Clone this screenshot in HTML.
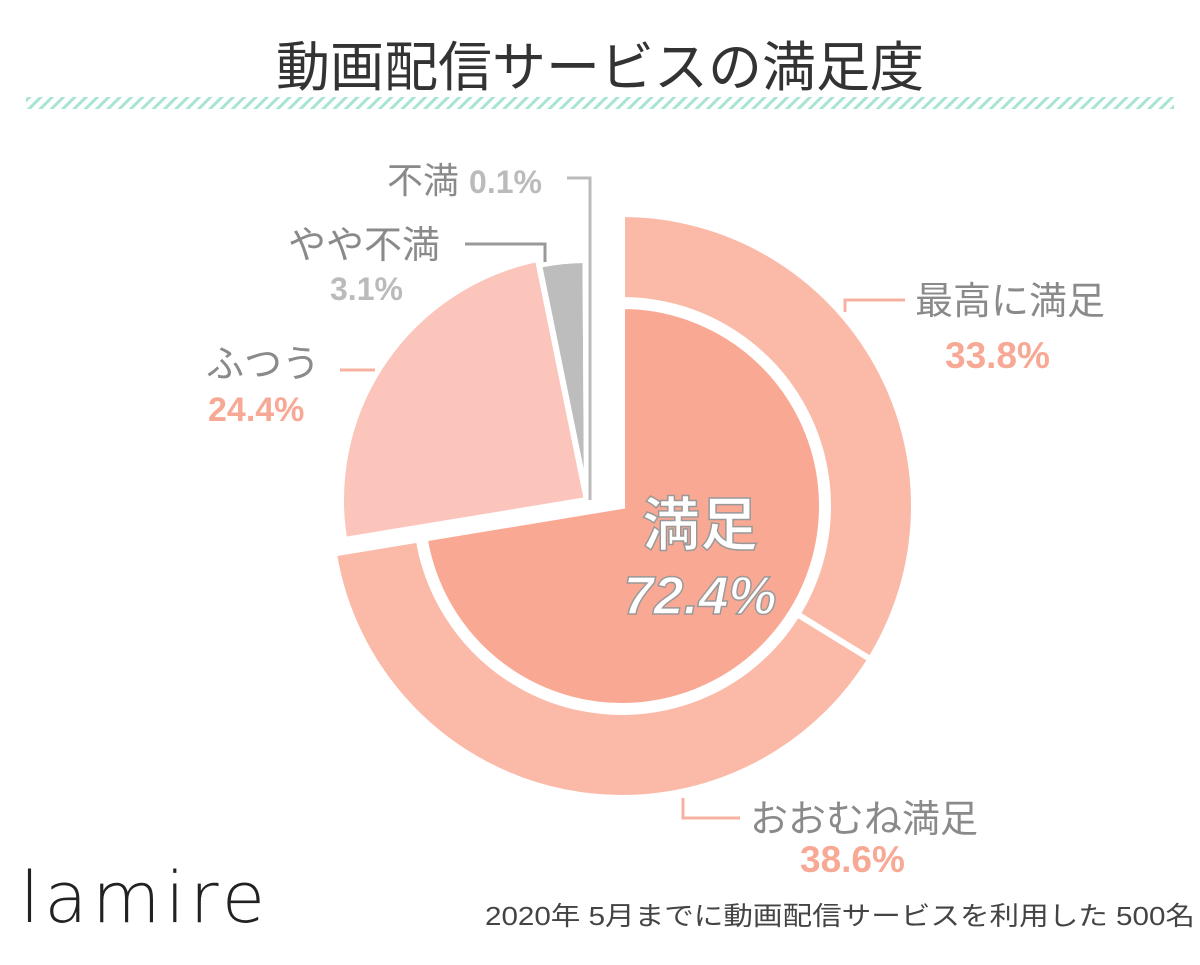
<!DOCTYPE html>
<html><head><meta charset="utf-8"><style>
body{margin:0;background:#fff;width:1200px;height:960px;overflow:hidden;font-family:"Liberation Sans","Noto Sans CJK JP",sans-serif}
</style></head><body>
<svg width="1200" height="960" viewBox="0 0 1200 960">
<defs><pattern id="hatch" width="8" height="8" patternUnits="userSpaceOnUse" patternTransform="rotate(45)"><rect width="3" height="8" fill="#a8e4d4"/></pattern></defs>
<text x="600" y="86" text-anchor="middle" font-size="54" fill="#333" font-family="Liberation Sans,Noto Sans CJK JP,sans-serif">動画配信サービスの満足度</text>
<rect x="26" y="97" width="1148" height="12" fill="url(#hatch)"/>
<g id="marks"></g>
<g fill="none" stroke-width="3">
<polyline points="567,178 590,178 590,500" stroke="#bbb"/>
<polyline points="465,244 545,244 545,262" stroke="#999"/>
<polyline points="340,370 375,370" stroke="#f7b1a0"/>
<polyline points="905,300 845,300 845,312" stroke="#f7b1a0"/>
<polyline points="740,818 683,818 683,798" stroke="#f7b1a0"/>
</g>
<g font-size="38" fill="#8a8a8a">
<text x="387" y="193" font-size="36">不満 <tspan fill="#bbb" font-weight="bold" font-size="32">0.1%</tspan></text>
<text x="288" y="258">やや不満</text>
<text x="330" y="300" fill="#bbb" font-weight="bold" font-size="32">3.1%</text>
<text x="206" y="377">ふつう</text>
<text x="208" y="421" fill="#f7a995" font-weight="bold" font-size="34">24.4%</text>
<text x="915" y="314">最高に満足</text>
<text x="945" y="368" fill="#f7a995" font-weight="bold" font-size="37">33.8%</text>
<text x="750" y="832">おおむね満足</text>
<text x="800" y="872" fill="#f7a995" font-weight="bold" font-size="37">38.6%</text>
</g>
<text x="700" y="545" text-anchor="middle" font-size="58" fill="#fff" stroke="#999" stroke-width="1.5" font-weight="bold">満足</text>
<text x="700" y="614" text-anchor="middle" font-size="54" fill="#fff" stroke="#999" stroke-width="1.5" font-weight="bold" font-style="italic">72.4%</text>
<text x="20" y="922" font-size="70" fill="#222" font-family="DejaVu Sans,sans-serif" font-weight="200" textLength="245" lengthAdjust="spacing">lamire</text>
<text x="485" y="925" font-size="26" fill="#444" textLength="710" lengthAdjust="spacingAndGlyphs">2020年 5月までに動画配信サービスを利用した 500名</text>
</svg>
<script>
const ringLabels=["最高に満足","おおむね満足"];
const ringValues=[33.8,38.6];
const satisfiedTotal=[72.4];
const otherLabels=["ふつう","やや不満","不満"];
const otherValues=[24.4,3.1,0.1];
const NS="http://www.w3.org/2000/svg";
const g=document.getElementById('marks');
function ang(p){return p/100*2*Math.PI;}
function pt(cx,cy,r,a){return [cx+r*Math.sin(a),cy-r*Math.cos(a)];}
function arcPath(cx,cy,r0,r1,a0,a1){
 const large=(a1-a0)>Math.PI?1:0;
 const p1=pt(cx,cy,r1,a0),p2=pt(cx,cy,r1,a1);
 if(r0<=0)return `M${cx},${cy}L${p1}A${r1},${r1} 0 ${large} 1 ${p2}Z`;
 const p3=pt(cx,cy,r0,a1),p4=pt(cx,cy,r0,a0);
 return `M${p1}A${r1},${r1} 0 ${large} 1 ${p2}L${p3}A${r0},${r0} 0 ${large} 0 ${p4}Z`;
}
function add(d,fill,name){const p=document.createElementNS(NS,'path');p.setAttribute('d',d);p.setAttribute('fill',fill);p.setAttribute('stroke','#fff');p.setAttribute('stroke-width','6');p.setAttribute('stroke-linejoin','miter');


g.appendChild(p);}
const cx=622,cy=506;
let acc=0;
ringValues.forEach((v,i)=>{add(arcPath(cx,cy,206,292,ang(acc),ang(acc+v)),"#fbb9a8",'ring-slice-'+(i+1));acc+=v;});
add(arcPath(cx,cy,0,200,0,ang(satisfiedTotal[0])),"#f9a993",'satisfied-slice');
const ox=587,oy=500;const cols=["#fcc5bb","#bdbdbd","#bdbdbd"];
let a2=satisfiedTotal[0];
otherValues.forEach((v,i)=>{add(arcPath(ox,oy,0,i==0?246:240,ang(a2),ang(a2+v)),cols[i],'other-slice-'+(i+1));a2+=v;});
</script>
</body></html>
